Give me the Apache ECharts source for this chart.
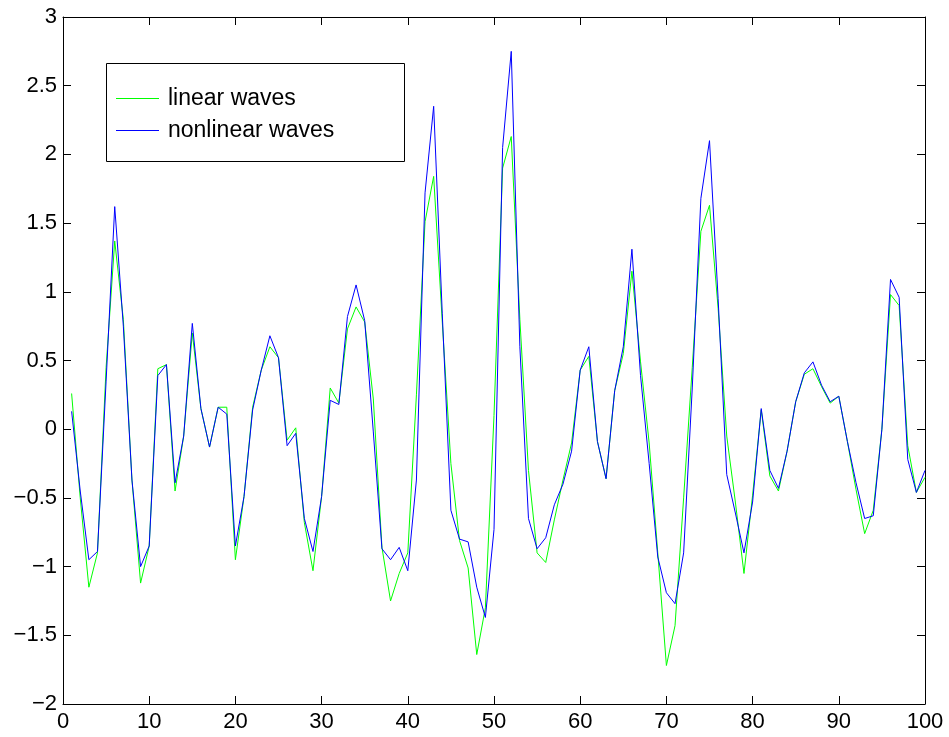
<!DOCTYPE html>
<html>
<head>
<meta charset="utf-8">
<script src="https://cdn.jsdelivr.net/npm/echarts@6/dist/echarts.min.js"></script>
<style>
  html, body { margin: 0; padding: 0; background: #fff; }
  #chart { width: 949px; height: 737px; }
</style>
</head>
<body>
<div id="chart"></div>
<script>
// Sample index (1..100)
const samples = Array.from({ length: 100 }, (_, i) => i + 1);

// Surface elevation from linear theory
const linearWaves = [
  0.26, -0.50, -1.15, -0.90, 0.45, 1.37, 0.80, -0.37, -1.12, -0.85,
  0.44, 0.47, -0.45, -0.05, 0.70, 0.15, -0.13, 0.16, 0.16, -0.95,
  -0.49, 0.16, 0.43, 0.60, 0.52, -0.08, 0.01, -0.68, -1.03, -0.49,
  0.30, 0.19, 0.73, 0.89, 0.78, 0.22, -0.86, -1.25, -1.05, -0.90,
  0.25, 1.51, 1.84, 0.78, -0.25, -0.81, -1.01, -1.64, -1.30, 0.10,
  1.90, 2.13, 0.80, -0.30, -0.90, -0.97, -0.66, -0.37, -0.10, 0.43,
  0.53, -0.09, -0.36, 0.28, 0.55, 1.15, 0.49, -0.10, -0.90, -1.72,
  -1.43, -0.50, 0.45, 1.44, 1.63, 0.88, -0.05, -0.53, -1.05, -0.48,
  0.14, -0.34, -0.45, -0.16, 0.20, 0.40, 0.44, 0.31, 0.19, 0.24,
  -0.09, -0.44, -0.76, -0.59, 0.00, 0.98, 0.90, -0.12, -0.46, -0.35
];

// Surface elevation from the nonlinear model
const nonlinearWaves = [
  0.13, -0.45, -0.95, -0.89, 0.35, 1.62, 0.75, -0.37, -1.00, -0.85,
  0.39, 0.47, -0.39, -0.05, 0.77, 0.15, -0.13, 0.16, 0.11, -0.85,
  -0.49, 0.14, 0.43, 0.68, 0.52, -0.12, -0.03, -0.65, -0.89, -0.49,
  0.21, 0.18, 0.82, 1.05, 0.79, -0.02, -0.87, -0.95, -0.86, -1.03,
  -0.37, 1.72, 2.35, 0.84, -0.59, -0.80, -0.82, -1.15, -1.37, -0.73,
  2.05, 2.75, 0.60, -0.65, -0.87, -0.79, -0.55, -0.40, -0.16, 0.43,
  0.60, -0.09, -0.36, 0.28, 0.60, 1.31, 0.39, -0.25, -0.93, -1.19,
  -1.27, -0.90, 0.30, 1.68, 2.10, 0.95, -0.33, -0.61, -0.90, -0.53,
  0.15, -0.30, -0.43, -0.16, 0.20, 0.41, 0.49, 0.32, 0.20, 0.24,
  -0.09, -0.39, -0.65, -0.63, 0.00, 1.09, 0.96, -0.22, -0.46, -0.30
];

const seriesNames = ['linear waves', 'nonlinear waves'];
const seriesColors = ['#00ff00', '#0000ff'];

const FONT = '"Liberation Sans", Arial, Helvetica, sans-serif';
const minus = v => (v < 0 ? '\u2212' + Math.abs(v) : String(v));

const pairs = arr => samples.map((x, i) => [x, arr[i]]);

const baseAxis = {
  axisLine: { show: true, onZero: false, lineStyle: { color: '#000', width: 1 } },
  axisTick: { show: true, inside: true, length: 8, lineStyle: { color: '#000', width: 1 } },
  splitLine: { show: false }
};

const chart = echarts.init(document.getElementById('chart'), null, { renderer: 'canvas' });

chart.setOption({
  animation: false,
  backgroundColor: '#fff',
  grid: { left: 63, top: 17, right: 24, bottom: 33, containLabel: false },
  xAxis: [
    Object.assign({}, baseAxis, {
      type: 'value', min: 0, max: 100, interval: 10, position: 'bottom',
      axisLabel: { color: '#000', fontSize: 22, fontFamily: FONT, margin: 7 }
    }),
    Object.assign({}, baseAxis, {
      type: 'value', min: 0, max: 100, interval: 10, position: 'top',
      axisLabel: { show: false }
    })
  ],
  yAxis: [
    Object.assign({}, baseAxis, {
      type: 'value', min: -2, max: 3, interval: 0.5, position: 'left',
      axisLabel: { color: '#000', fontSize: 22, fontFamily: FONT, margin: 6, formatter: minus }
    }),
    Object.assign({}, baseAxis, {
      type: 'value', min: -2, max: 3, interval: 0.5, position: 'right',
      axisLabel: { show: false }
    })
  ],
  legend: {
    left: 107, top: 63,
    orient: 'vertical',
    padding: [24, 10, 20, 9],
    itemGap: 9,
    itemWidth: 43, itemHeight: 1,
    icon: 'rect',
    textStyle: { color: '#000', fontSize: 23, fontFamily: FONT, lineHeight: 23, padding: [0, 0, 0, 4] },
    data: seriesNames
  },
  graphic: [{
    type: 'rect',
    shape: { x: 106.5, y: 63.5, width: 298, height: 98 },
    style: { fill: 'none', stroke: '#000', lineWidth: 1 },
    z: 5
  }],
  series: [
    {
      name: seriesNames[0], type: 'line', data: pairs(linearWaves),
      showSymbol: false, symbol: 'none', color: seriesColors[0],
      lineStyle: { color: seriesColors[0], width: 1 }, z: 2
    },
    {
      name: seriesNames[1], type: 'line', data: pairs(nonlinearWaves),
      showSymbol: false, symbol: 'none', color: seriesColors[1],
      lineStyle: { color: seriesColors[1], width: 1 }, z: 3
    }
  ]
});
</script>
</body>
</html>
